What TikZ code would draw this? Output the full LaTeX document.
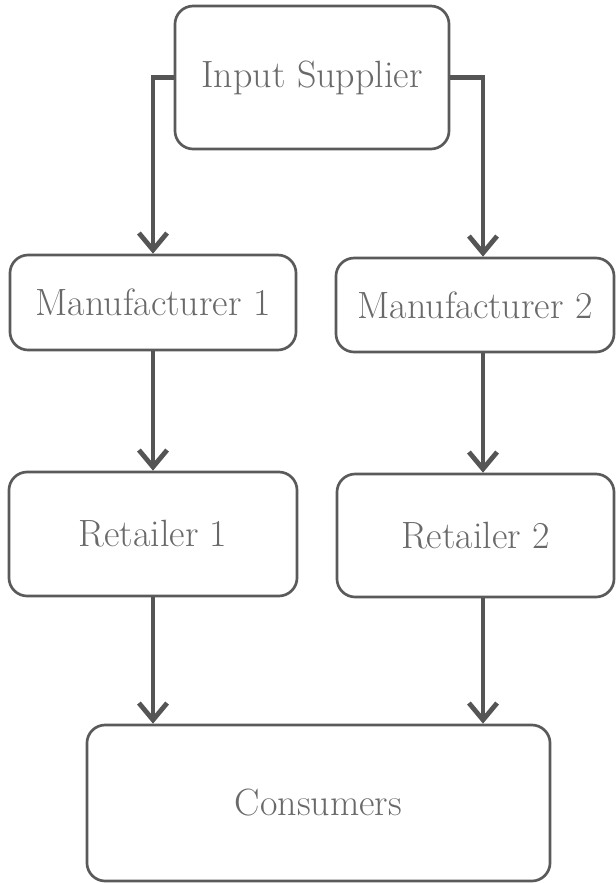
\documentclass[tikz,border=0pt]{standalone}
\usepackage{xcolor}
\usetikzlibrary{arrows.meta,positioning}
\definecolor{boxgray}{RGB}{90,90,90}
\definecolor{arrgray}{RGB}{85,85,85}
\definecolor{txtgray}{RGB}{105,105,105}

\begin{document}
\begin{tikzpicture}[x=0.025cm, y=-0.025cm,
      box/.style={draw=boxgray, line width=1.9pt, rounded corners=13pt,
                  text=txtgray, font=\fontsize{27}{31}\selectfont,
                  inner sep=0pt, align=center},
      arr/.style={-{Straight Barb[length=12pt,width=20pt]},
                  line width=3.4pt, draw=arrgray}
  ]
    \useasboundingbox (0,0) rectangle (616,883);
    \node[box, minimum width=6.85cm, minimum height=3.575cm]  (is) at (312,77.5)  {Input Supplier};
    \node[box, minimum width=7.15cm, minimum height=2.375cm]  (m1) at (153,302.5) {Manufacturer 1};
    \node[box, minimum width=6.95cm, minimum height=2.35cm]   (m2) at (475,305)   {Manufacturer 2};
    \node[box, minimum width=7.2cm, minimum height=3.1cm]     (r1) at (153,534)   {Retailer 1};
    \node[box, minimum width=6.925cm, minimum height=3.075cm] (r2) at (475.5,535.5) {Retailer 2};
    \node[box, minimum width=11.575cm, minimum height=3.9cm]  (co) at (318.5,803) {Consumers};
    \coordinate (lane) at (483,0);
    % supplier to manufacturers
    \draw[arr] (is.west) -| (m1.north);
    \draw[arr] (is.east) -| (m2.north -| lane);
    % manufacturers to retailers
    \draw[arr] (m1.south) -- (r1.north);
    \draw[arr] (m2.south -| lane) -- (r2.north -| lane);
    % retailers to consumers
    \draw[arr] (r1.south) -- (r1.south |- co.north);
    \draw[arr] (r2.south -| lane) -- (co.north -| lane);
  \end{tikzpicture}
\end{document}
